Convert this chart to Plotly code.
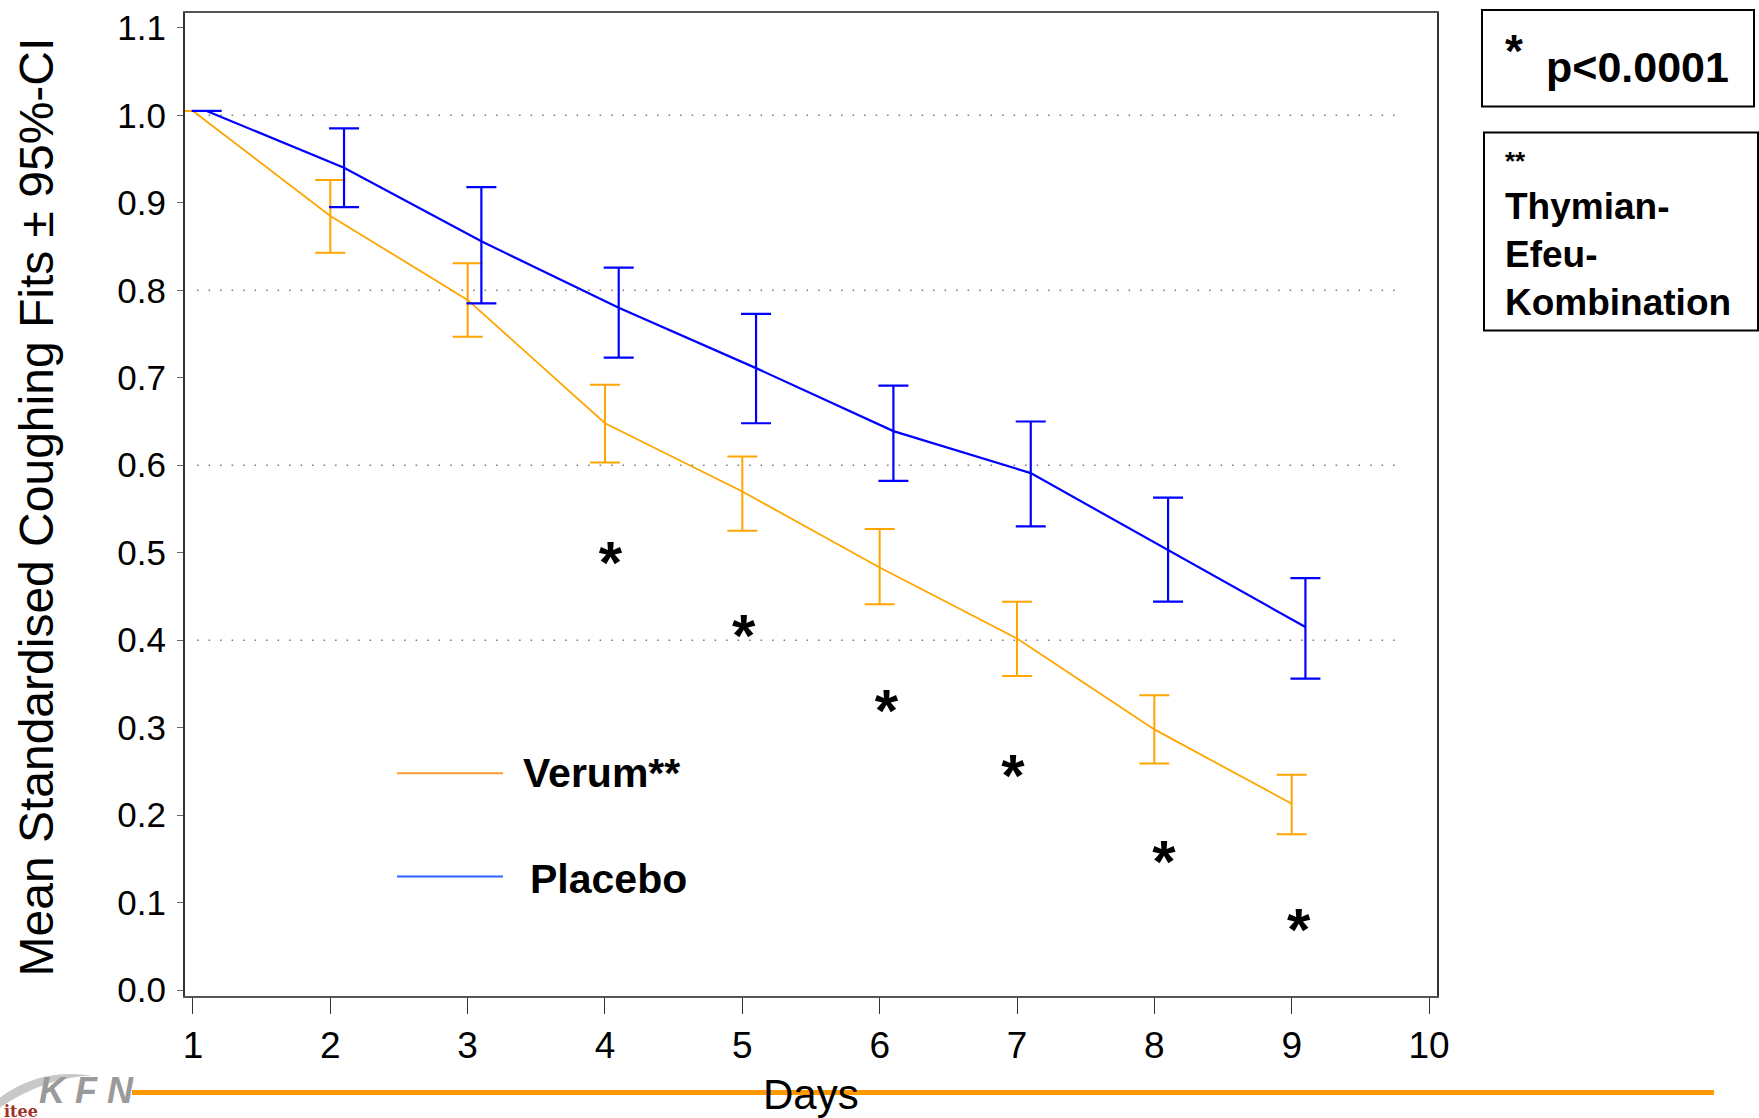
import plotly.graph_objects as go

# ---------------- data ----------------
days = [1, 2, 3, 4, 5, 6, 7, 8, 9]
x_ticks = [1, 2, 3, 4, 5, 6, 7, 8, 9, 10]
y_ticks = [0.0, 0.1, 0.2, 0.3, 0.4, 0.5, 0.6, 0.7, 0.8, 0.9, 1.0, 1.1]
y_tick_labels = ["0.0", "0.1", "0.2", "0.3", "0.4", "0.5", "0.6", "0.7", "0.8", "0.9", "1.0", "1.1"]
grid_levels = [0.4, 0.6, 0.8, 1.0]

verum_mean = [1.005, 0.885, 0.789, 0.648, 0.570, 0.483, 0.402, 0.298, 0.213]
verum_low = [1.005, 0.843, 0.747, 0.603, 0.525, 0.441, 0.359, 0.259, 0.178]
verum_high = [1.005, 0.926, 0.831, 0.692, 0.610, 0.527, 0.444, 0.337, 0.246]

placebo_mean = [1.005, 0.940, 0.856, 0.780, 0.711, 0.639, 0.591, 0.503, 0.415]
placebo_low = [1.005, 0.895, 0.785, 0.723, 0.648, 0.582, 0.530, 0.444, 0.356]
placebo_high = [1.005, 0.985, 0.918, 0.826, 0.773, 0.691, 0.650, 0.563, 0.471]
placebo_offset = 0.1

star_x = [4.04, 5.01, 6.05, 6.97, 8.07, 9.05]
star_y = [0.482, 0.399, 0.313, 0.239, 0.141, 0.063]

series_names = ["Verum**", "Placebo"]

# ---------------- layout helpers ----------------
W, H = 1759, 1118
PL, PR, PT, PB = 185, 1437, 8, 996   # plot area in pixels


def px(x):
    return (x - PL) / (PR - PL)


def py(y):
    return (PB - y) / (PB - PT)


ORANGE = "#FFA500"
BLUE = "#0000FF"
FONT = "Liberation Sans, Arial, sans-serif"

fig = go.Figure()

fig.add_trace(go.Scatter(
    x=days, y=verum_mean, mode="lines", name=series_names[0],
    line=dict(color=ORANGE, width=1.8),
    error_y=dict(type="data", symmetric=False,
                 array=[h - m for h, m in zip(verum_high, verum_mean)],
                 arrayminus=[m - l for m, l in zip(verum_mean, verum_low)],
                 color=ORANGE, thickness=2, width=15),
    showlegend=False,
))

fig.add_trace(go.Scatter(
    x=[d + placebo_offset for d in days], y=placebo_mean, mode="lines", name=series_names[1],
    line=dict(color=BLUE, width=2.2),
    error_y=dict(type="data", symmetric=False,
                 array=[h - m for h, m in zip(placebo_high, placebo_mean)],
                 arrayminus=[m - l for m, l in zip(placebo_mean, placebo_low)],
                 color=BLUE, thickness=2.2, width=15),
    showlegend=False,
))

fig.add_trace(go.Scatter(
    x=star_x, y=star_y, mode="text", text=["*"] * len(star_x),
    textfont=dict(family=FONT, size=60, color="black", weight="bold"),
    showlegend=False, hoverinfo="skip",
))

shapes = []
# dotted reference lines
for g in grid_levels:
    shapes.append(dict(type="line", xref="x", yref="y", x0=1.03, x1=9.78, y0=g, y1=g,
                       line=dict(color="#777777", width=1.5, dash="1.5px,10px"), layer="below"))

# manual legend sample lines
shapes.append(dict(type="line", xref="paper", yref="paper",
                   x0=px(397), x1=px(503), y0=py(772), y1=py(772),
                   line=dict(color="#FF9A30", width=2)))
shapes.append(dict(type="line", xref="paper", yref="paper",
                   x0=px(397), x1=px(503), y0=py(876), y1=py(876),
                   line=dict(color="#3060FF", width=2)))

# right-hand note boxes
shapes.append(dict(type="rect", xref="paper", yref="paper",
                   x0=px(1482), x1=px(1754), y0=py(102), y1=py(5),
                   line=dict(color="black", width=2)))
shapes.append(dict(type="rect", xref="paper", yref="paper",
                   x0=px(1484), x1=px(1758), y0=py(327), y1=py(128),
                   line=dict(color="black", width=2)))

# orange footer rule
shapes.append(dict(type="line", xref="paper", yref="paper",
                   x0=px(132), x1=px(1714), y0=py(1093), y1=py(1093),
                   line=dict(color="#FF9900", width=5)))

# logo swoosh
shapes.append(dict(type="path", xref="paper", yref="paper",
                   path=f"M {px(0)},{py(1098)} Q {px(40)},{py(1068)} {px(92)},{py(1076)} "
                        f"Q {px(45)},{py(1078)} {px(0)},{py(1108)} Z",
                   fillcolor="#C8C8C8", line=dict(width=0)))

annotations = [
    # y axis title
    dict(text="Mean Standardised Coughing Fits ± 95%-CI", xref="paper", yref="paper",
         x=px(36), y=py(505), textangle=-90, showarrow=False,
         font=dict(family=FONT, size=48, color="black"), xanchor="center", yanchor="middle"),
    # x axis title
    dict(text="Days", xref="paper", yref="paper", x=px(811), y=py(1095), showarrow=False,
         font=dict(family=FONT, size=42, color="black"), xanchor="center", yanchor="middle"),
    # legend labels
    dict(text="<b>" + series_names[0] + "</b>", xref="paper", yref="paper", x=px(521), y=py(772),
         showarrow=False, xanchor="left", yanchor="middle",
         font=dict(family=FONT, size=41, color="black")),
    dict(text="<b>" + series_names[1] + "</b>", xref="paper", yref="paper", x=px(528), y=py(878),
         showarrow=False, xanchor="left", yanchor="middle",
         font=dict(family=FONT, size=41, color="black")),
    # box 1
    dict(text="<b>*</b>", xref="paper", yref="paper", x=px(1514), y=py(46),
         showarrow=False, xanchor="center", yanchor="middle",
         font=dict(family=FONT, size=46, color="black")),
    dict(text="<b>p<0.0001</b>", xref="paper", yref="paper", x=px(1544), y=py(62),
         showarrow=False, xanchor="left", yanchor="middle",
         font=dict(family=FONT, size=43, color="black")),
    # box 2
    dict(text="<b>**</b>", xref="paper", yref="paper", x=px(1503), y=py(157),
         showarrow=False, xanchor="left", yanchor="middle",
         font=dict(family=FONT, size=26, color="black")),
    dict(text="<b>Thymian-<br>Efeu-<br>Kombination</b>", xref="paper", yref="paper",
         x=px(1503), y=py(251), showarrow=False, xanchor="left", yanchor="middle", align="left",
         font=dict(family=FONT, size=37, color="black")),
    # logo
    dict(text="<b><i>K F N</i></b>", xref="paper", yref="paper", x=px(86), y=py(1091),
         showarrow=False, xanchor="center", yanchor="middle",
         font=dict(family=FONT, size=36, color="#9A9A9A")),
    dict(text="<b>itee</b>", xref="paper", yref="paper", x=px(2), y=py(1112),
         showarrow=False, xanchor="left", yanchor="middle",
         font=dict(family="DejaVu Serif, serif", size=16, color="#A0302A")),
]

fig.update_layout(
    width=W, height=H,
    margin=dict(l=PL, r=W - PR, t=PT, b=H - PB, pad=0),
    paper_bgcolor="white", plot_bgcolor="white",
    shapes=shapes, annotations=annotations,
    showlegend=False,
    xaxis=dict(range=[0.942, 10.058], tickmode="array", tickvals=x_ticks,
               ticktext=[str(t) for t in x_ticks],
               ticks="outside", ticklen=16, tickwidth=1, tickcolor="#333333",
               tickfont=dict(family=FONT, size=37, color="black"),
               showgrid=False, zeroline=False, showline=True, linecolor="#555555",
               linewidth=2, mirror=True, ticklabelstandoff=0),
    yaxis=dict(range=[-0.0068, 1.117], tickmode="array", tickvals=y_ticks,
               ticktext=y_tick_labels,
               ticks="outside", ticklen=6, tickwidth=1, tickcolor="#666666",
               tickfont=dict(family=FONT, size=35, color="black"),
               showgrid=False, zeroline=False, showline=True, linecolor="#333333",
               linewidth=2, mirror=True, ticklabelstandoff=4),
)

fig.write_html("out.html", config={"displayModeBar": False},
               post_script="document.body.style.margin='0px';document.body.style.overflow='hidden';")
